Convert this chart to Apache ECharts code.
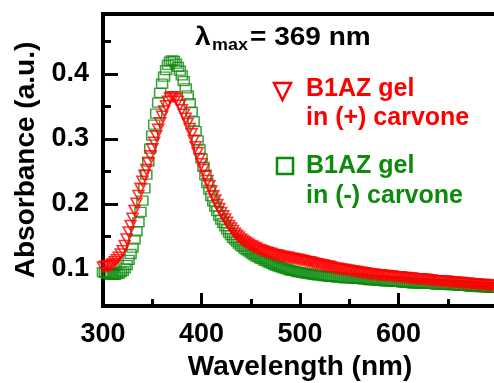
<!DOCTYPE html>
<html>
<head>
<meta charset="utf-8">
<script src="https://cdn.jsdelivr.net/npm/echarts@6/dist/echarts.min.js"></script>
<style>html,body{margin:0;padding:0;background:#fff}#c{width:494px;height:383px}</style>
</head>
<body>
<div id="c"></div>
<script>
// Sampling grid of the spectra (nm)
const WL_START = 300, WL_STEP = 2;
// B1AZ gel in (+) carvone, every 2 nm from 300 to 700 nm
const redPlus = [
0.103,0.104,0.104,0.105,0.106,0.108,0.111,0.114,0.118,0.123,
0.128,0.136,0.146,0.157,0.167,0.178,0.190,0.201,0.213,0.224,
0.235,0.244,0.253,0.263,0.274,0.285,0.295,0.305,0.315,0.325,
0.335,0.343,0.351,0.358,0.363,0.365,0.365,0.362,0.358,0.352,
0.345,0.338,0.332,0.324,0.316,0.308,0.298,0.288,0.279,0.270,
0.262,0.253,0.244,0.236,0.228,0.220,0.213,0.206,0.199,0.193,
0.187,0.182,0.177,0.172,0.167,0.163,0.159,0.155,0.152,0.149,
0.146,0.144,0.142,0.140,0.138,0.136,0.135,0.133,0.132,0.130,
0.129,0.128,0.127,0.126,0.125,0.124,0.123,0.122,0.122,0.121,
0.120,0.119,0.119,0.118,0.118,0.117,0.116,0.116,0.115,0.115,
0.114,0.113,0.113,0.112,0.111,0.111,0.110,0.109,0.108,0.108,
0.107,0.106,0.106,0.105,0.104,0.104,0.103,0.102,0.101,0.101,
0.100,0.100,0.099,0.099,0.098,0.098,0.097,0.097,0.096,0.096,
0.095,0.095,0.094,0.094,0.093,0.093,0.092,0.092,0.092,0.091,
0.091,0.091,0.090,0.090,0.090,0.089,0.089,0.089,0.088,0.088,
0.088,0.088,0.087,0.087,0.087,0.086,0.086,0.086,0.085,0.085,
0.085,0.085,0.084,0.084,0.084,0.083,0.083,0.083,0.082,0.082,
0.082,0.082,0.081,0.081,0.081,0.081,0.080,0.080,0.080,0.080,
0.079,0.079,0.079,0.078,0.078,0.078,0.078,0.077,0.077,0.077,
0.077,0.076,0.076,0.076,0.076,0.075,0.075,0.075,0.075,0.075,
0.075
];
// B1AZ gel in (-) carvone, every 2 nm from 300 to 700 nm
const greenMinus = [
0.095,0.094,0.093,0.092,0.091,0.091,0.091,0.092,0.093,0.095,
0.097,0.101,0.106,0.114,0.123,0.133,0.145,0.158,0.172,0.188,
0.205,0.224,0.245,0.265,0.285,0.305,0.322,0.339,0.356,0.371,
0.385,0.396,0.406,0.414,0.419,0.421,0.420,0.416,0.411,0.405,
0.398,0.389,0.378,0.367,0.355,0.342,0.327,0.312,0.298,0.284,
0.270,0.257,0.244,0.232,0.222,0.212,0.204,0.196,0.189,0.182,
0.176,0.171,0.166,0.161,0.156,0.152,0.148,0.145,0.142,0.139,
0.136,0.134,0.131,0.129,0.127,0.125,0.123,0.121,0.119,0.118,
0.116,0.115,0.113,0.112,0.110,0.109,0.108,0.106,0.105,0.104,
0.103,0.102,0.101,0.100,0.099,0.098,0.097,0.097,0.096,0.095,
0.095,0.094,0.094,0.093,0.093,0.092,0.092,0.091,0.091,0.090,
0.090,0.090,0.089,0.089,0.089,0.088,0.088,0.088,0.087,0.087,
0.087,0.087,0.086,0.086,0.086,0.086,0.086,0.085,0.085,0.085,
0.085,0.085,0.084,0.084,0.084,0.083,0.083,0.083,0.083,0.082,
0.082,0.082,0.082,0.081,0.081,0.081,0.081,0.080,0.080,0.080,
0.080,0.080,0.079,0.079,0.079,0.079,0.079,0.078,0.078,0.078,
0.078,0.078,0.078,0.077,0.077,0.077,0.077,0.077,0.077,0.076,
0.076,0.076,0.076,0.076,0.076,0.076,0.075,0.075,0.075,0.075,
0.075,0.074,0.074,0.074,0.074,0.074,0.073,0.073,0.073,0.073,
0.073,0.072,0.072,0.072,0.072,0.072,0.071,0.071,0.071,0.071,
0.071
];
const xLabels = [300, 400, 500, 600];
const yMajorTicks = [0.1, 0.2, 0.3, 0.4];
const yMinorTicks = [0.15, 0.25, 0.35, 0.45];

const RED = '#ff0000', GREEN = '#0c8a0c';
const FONT = '"Liberation Sans", Arial, sans-serif';
const SQUARE = 'path://M0,0L10,0L10,10L0,10Z';

const toPairs = arr => arr.map((v, i) => [WL_START + i * WL_STEP, v]);

const chart = echarts.init(document.getElementById('c'));
const labelStyle = { color: '#000', fontSize: 27, fontWeight: 'bold', fontFamily: FONT };
const nameStyle = { color: '#000', fontSize: 28, fontWeight: 'bold', fontFamily: FONT };

chart.setOption({
  animation: false,
  grid: { left: 103, top: 14, width: 394, height: 292, show: true, borderColor: '#000', borderWidth: 4, outerBoundsMode: 'none' },
  xAxis: {
    type: 'value', min: 300, max: 700, interval: 100,
    axisLine: { show: true, lineStyle: { color: '#000', width: 4 } },
    axisTick: { show: true, inside: true, length: 13, lineStyle: { width: 3, color: '#000' } },
    minorTick: { show: true, splitNumber: 2, length: 7, lineStyle: { width: 3, color: '#000' } },
    axisLabel: Object.assign({ margin: 15, formatter: v => (xLabels.indexOf(v) >= 0 ? String(v) : '') }, labelStyle),
    splitLine: { show: false }, minorSplitLine: { show: false },
    name: 'Wavelength (nm)', nameLocation: 'middle', nameGap: 47, nameTextStyle: nameStyle
  },
  yAxis: {
    type: 'value', min: 0.043, max: 0.4923,
    axisLine: { show: true, lineStyle: { color: '#000', width: 4 } },
    axisTick: { show: true, inside: true, length: 15, lineStyle: { width: 3, color: '#000' }, customValues: yMajorTicks },
    axisLabel: Object.assign({ customValues: yMajorTicks, margin: 14, formatter: v => v.toFixed(1) }, labelStyle),
    splitLine: { show: false },
    name: 'Absorbance (a.u.)', nameLocation: 'middle', nameGap: 58, nameTextStyle: nameStyle
  },
  series: [
    {
      type: 'scatter',
      data: toPairs(greenMinus), symbol: SQUARE, symbolSize: [11, 9],
      itemStyle: { color: 'rgba(0,0,0,0)', borderColor: GREEN, borderWidth: 1.4 },
      emphasis: { disabled: true }, z: 2
    },
    {
      type: 'scatter',
      data: toPairs(redPlus), symbol: 'triangle', symbolRotate: 180, symbolSize: [11, 10],
      itemStyle: { color: 'rgba(0,0,0,0)', borderColor: RED, borderWidth: 1.6 },
      emphasis: { disabled: true }, z: 3
    }
  ]
});

// Minor inward y ticks, placed through the chart's own y scale
const x0 = chart.convertToPixel({ xAxisIndex: 0 }, 300);
const minorTickGraphics = yMinorTicks.map(v => {
  const py = chart.convertToPixel({ yAxisIndex: 0 }, v);
  return { type: 'line', z: 10, shape: { x1: x0, y1: py, x2: x0 + 8, y2: py }, style: { stroke: '#000', lineWidth: 3 } };
});

chart.setOption({
  graphic: [
    { type: 'text', x: 195, y: 38, scaleX: 1.12, style: { text: 'λ', fill: '#000', font: 'bold 25px ' + FONT, verticalAlign: 'middle' } },
    { type: 'text', x: 212, y: 46, scaleX: 1.12, style: { text: 'max', fill: '#000', font: 'bold 16px ' + FONT, verticalAlign: 'middle' } },
    { type: 'text', x: 250, y: 38, scaleX: 1.12, style: { text: '= 369 nm', fill: '#000', font: 'bold 25px ' + FONT, verticalAlign: 'middle' } },
    { type: 'polygon', shape: { points: [[274, 83], [291, 83], [282.5, 100]] }, style: { fill: 'none', stroke: RED, lineWidth: 2.5 } },
    { type: 'text', x: 306, y: 89, style: { text: 'B1AZ gel', fill: RED, font: 'bold 25px ' + FONT, verticalAlign: 'middle' } },
    { type: 'text', x: 306, y: 118, style: { text: 'in (+) carvone', fill: RED, font: 'bold 25px ' + FONT, verticalAlign: 'middle' } },
    { type: 'rect', shape: { x: 277, y: 158, width: 16, height: 16 }, style: { fill: 'none', stroke: GREEN, lineWidth: 2.5 } },
    { type: 'text', x: 306, y: 166, style: { text: 'B1AZ gel', fill: GREEN, font: 'bold 25px ' + FONT, verticalAlign: 'middle' } },
    { type: 'text', x: 306, y: 196, style: { text: 'in (-) carvone', fill: GREEN, font: 'bold 25px ' + FONT, verticalAlign: 'middle' } }
  ].concat(minorTickGraphics)
});
</script>
</body>
</html>
